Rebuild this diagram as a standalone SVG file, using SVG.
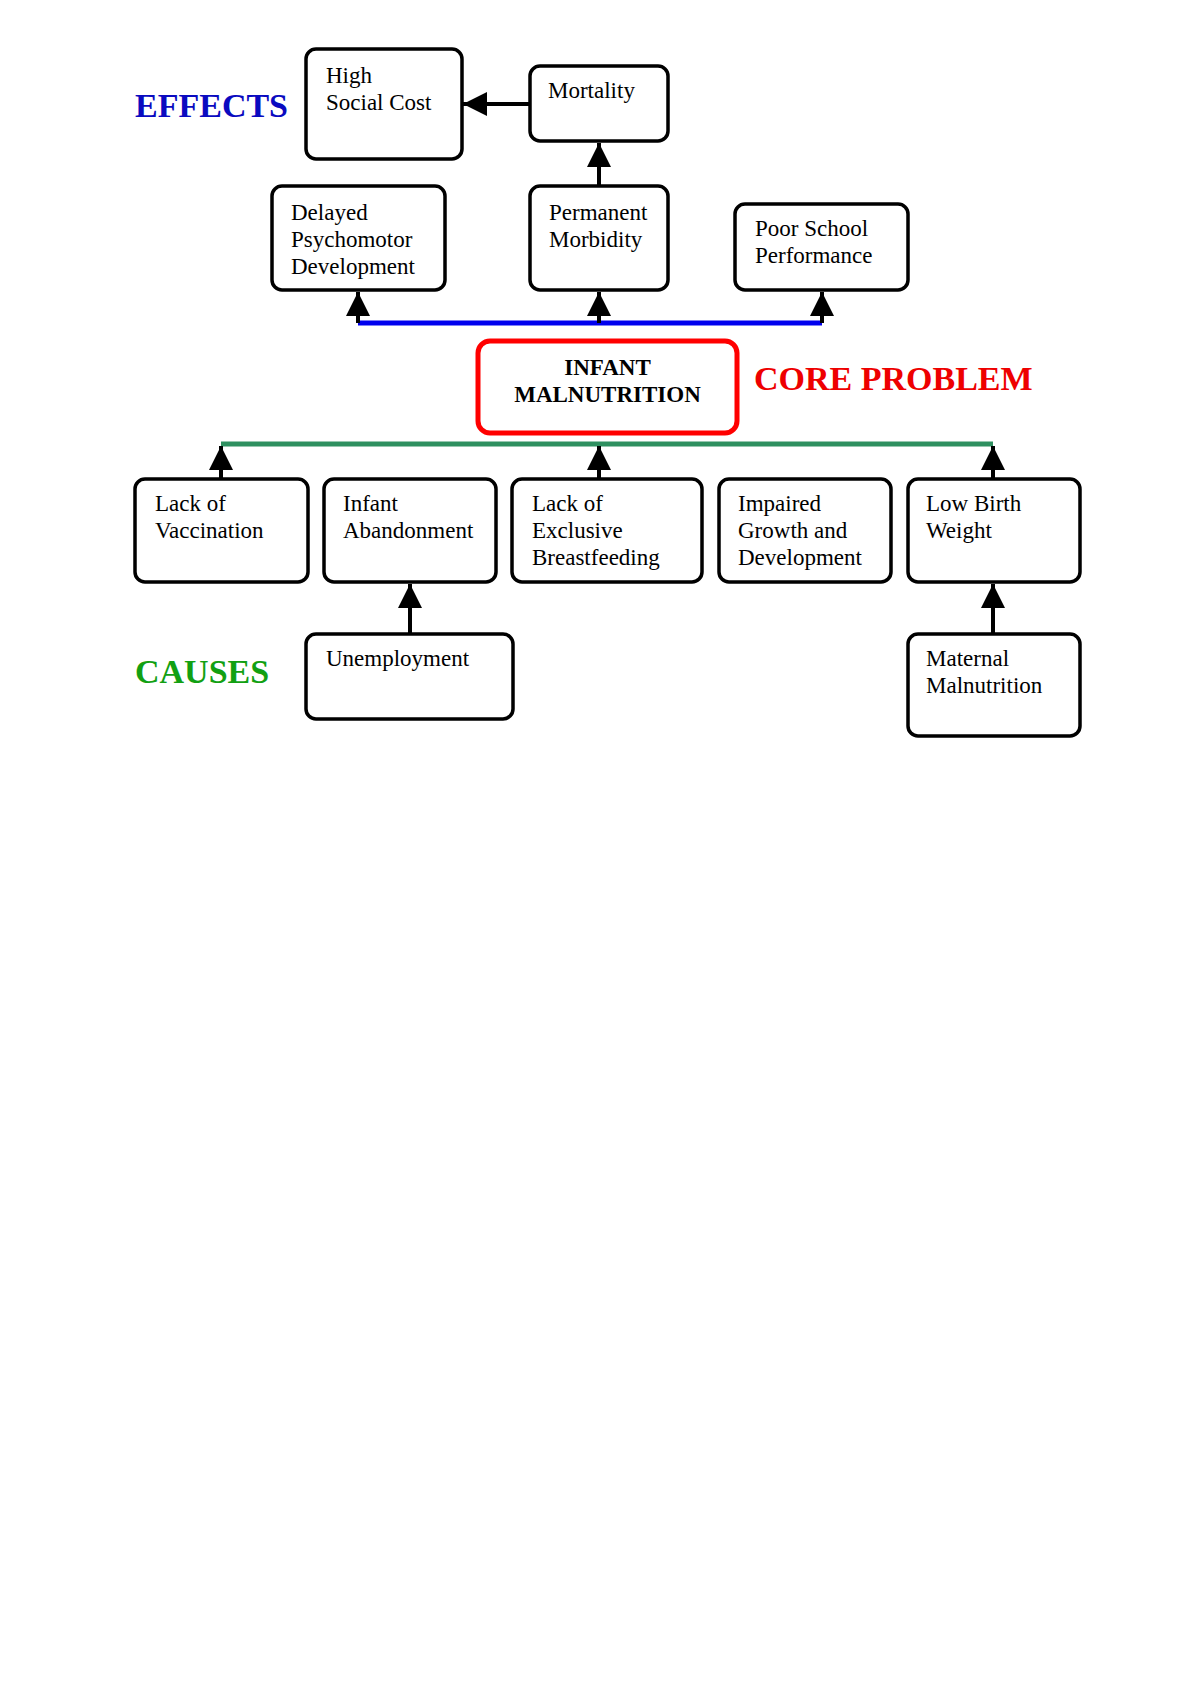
<svg xmlns="http://www.w3.org/2000/svg" width="1200" height="1698" viewBox="0 0 1200 1698">
<style>
.box{fill:#fff;stroke:#000;stroke-width:3.5}
.core{fill:#fff;stroke:#f00;stroke-width:5}
.t{font-family:"Liberation Serif","Times New Roman",serif;font-size:23px;fill:#000}
.tb{font-family:"Liberation Serif","Times New Roman",serif;font-size:23px;font-weight:bold;fill:#000;text-anchor:middle}
.big{font-family:"Liberation Serif","Times New Roman",serif;font-size:34px;font-weight:bold}
.arr{stroke:#000;stroke-width:4;fill:none;marker-end:url(#ah)}
</style>
<defs>
<marker id="ah" viewBox="0 0 10 10" refX="10" refY="5" markerUnits="userSpaceOnUse" markerWidth="24" markerHeight="24" orient="auto">
<path d="M0,0 L10,5 L0,10 z" fill="#000"/>
</marker>
</defs>
<rect width="1200" height="1698" fill="#fff"/>
<text class="big" x="135" y="117" fill="#0a0ac0">EFFECTS</text>
<text class="big" x="754" y="390" fill="#ee0000">CORE PROBLEM</text>
<text class="big" x="135" y="683" fill="#12a012">CAUSES</text>
<g id="connectors">
<line x1="358" y1="323" x2="822" y2="323" stroke="#0000ee" stroke-width="5"/>
<line x1="221" y1="444" x2="993" y2="444" stroke="#2e9060" stroke-width="5"/>
<line class="arr" x1="530" y1="104" x2="463" y2="104"/>
<line class="arr" x1="599" y1="186" x2="599" y2="143"/>
<line class="arr" x1="358" y1="323" x2="358" y2="292"/>
<line class="arr" x1="599" y1="323" x2="599" y2="292"/>
<line class="arr" x1="822" y1="323" x2="822" y2="292"/>
<line class="arr" x1="221" y1="479" x2="221" y2="446"/>
<line class="arr" x1="599" y1="479" x2="599" y2="446"/>
<line class="arr" x1="993" y1="479" x2="993" y2="446"/>
<line class="arr" x1="410" y1="634" x2="410" y2="584"/>
<line class="arr" x1="993" y1="634" x2="993" y2="584"/>
</g>
<g id="high-social-cost"><rect class="box" x="306" y="49" width="156" height="110" rx="10"/><text class="t" x="326" y="83">High</text><text class="t" x="326" y="110">Social Cost</text></g>
<g id="mortality"><rect class="box" x="530" y="66" width="138" height="75" rx="10"/><text class="t" x="548" y="98">Mortality</text></g>
<g id="delayed"><rect class="box" x="272" y="186" width="173" height="104" rx="10"/><text class="t" x="291" y="220">Delayed</text><text class="t" x="291" y="247">Psychomotor</text><text class="t" x="291" y="274">Development</text></g>
<g id="morbidity"><rect class="box" x="530" y="186" width="138" height="104" rx="10"/><text class="t" x="549" y="220">Permanent</text><text class="t" x="549" y="247">Morbidity</text></g>
<g id="school"><rect class="box" x="735" y="204" width="173" height="86" rx="10"/><text class="t" x="755" y="236">Poor School</text><text class="t" x="755" y="263">Performance</text></g>
<g id="core"><rect class="core" x="478" y="341" width="259" height="92" rx="12"/><text class="tb" x="607.5" y="375">INFANT</text><text class="tb" x="607.5" y="402">MALNUTRITION</text></g>
<g id="vaccination"><rect class="box" x="135" y="479" width="173" height="103" rx="10"/><text class="t" x="155" y="511">Lack of</text><text class="t" x="155" y="538">Vaccination</text></g>
<g id="abandonment"><rect class="box" x="324" y="479" width="172" height="103" rx="10"/><text class="t" x="343" y="511">Infant</text><text class="t" x="343" y="538">Abandonment</text></g>
<g id="breastfeeding"><rect class="box" x="512" y="479" width="190" height="103" rx="10"/><text class="t" x="532" y="511">Lack of</text><text class="t" x="532" y="538">Exclusive</text><text class="t" x="532" y="565">Breastfeeding</text></g>
<g id="growth"><rect class="box" x="719" y="479" width="172" height="103" rx="10"/><text class="t" x="738" y="511">Impaired</text><text class="t" x="738" y="538">Growth and</text><text class="t" x="738" y="565">Development</text></g>
<g id="lowbirth"><rect class="box" x="908" y="479" width="172" height="103" rx="10"/><text class="t" x="926" y="511">Low Birth</text><text class="t" x="926" y="538">Weight</text></g>
<g id="unemployment"><rect class="box" x="306" y="634" width="207" height="85" rx="10"/><text class="t" x="326" y="666">Unemployment</text></g>
<g id="maternal"><rect class="box" x="908" y="634" width="172" height="102" rx="10"/><text class="t" x="926" y="666">Maternal</text><text class="t" x="926" y="693">Malnutrition</text></g>
</svg>
